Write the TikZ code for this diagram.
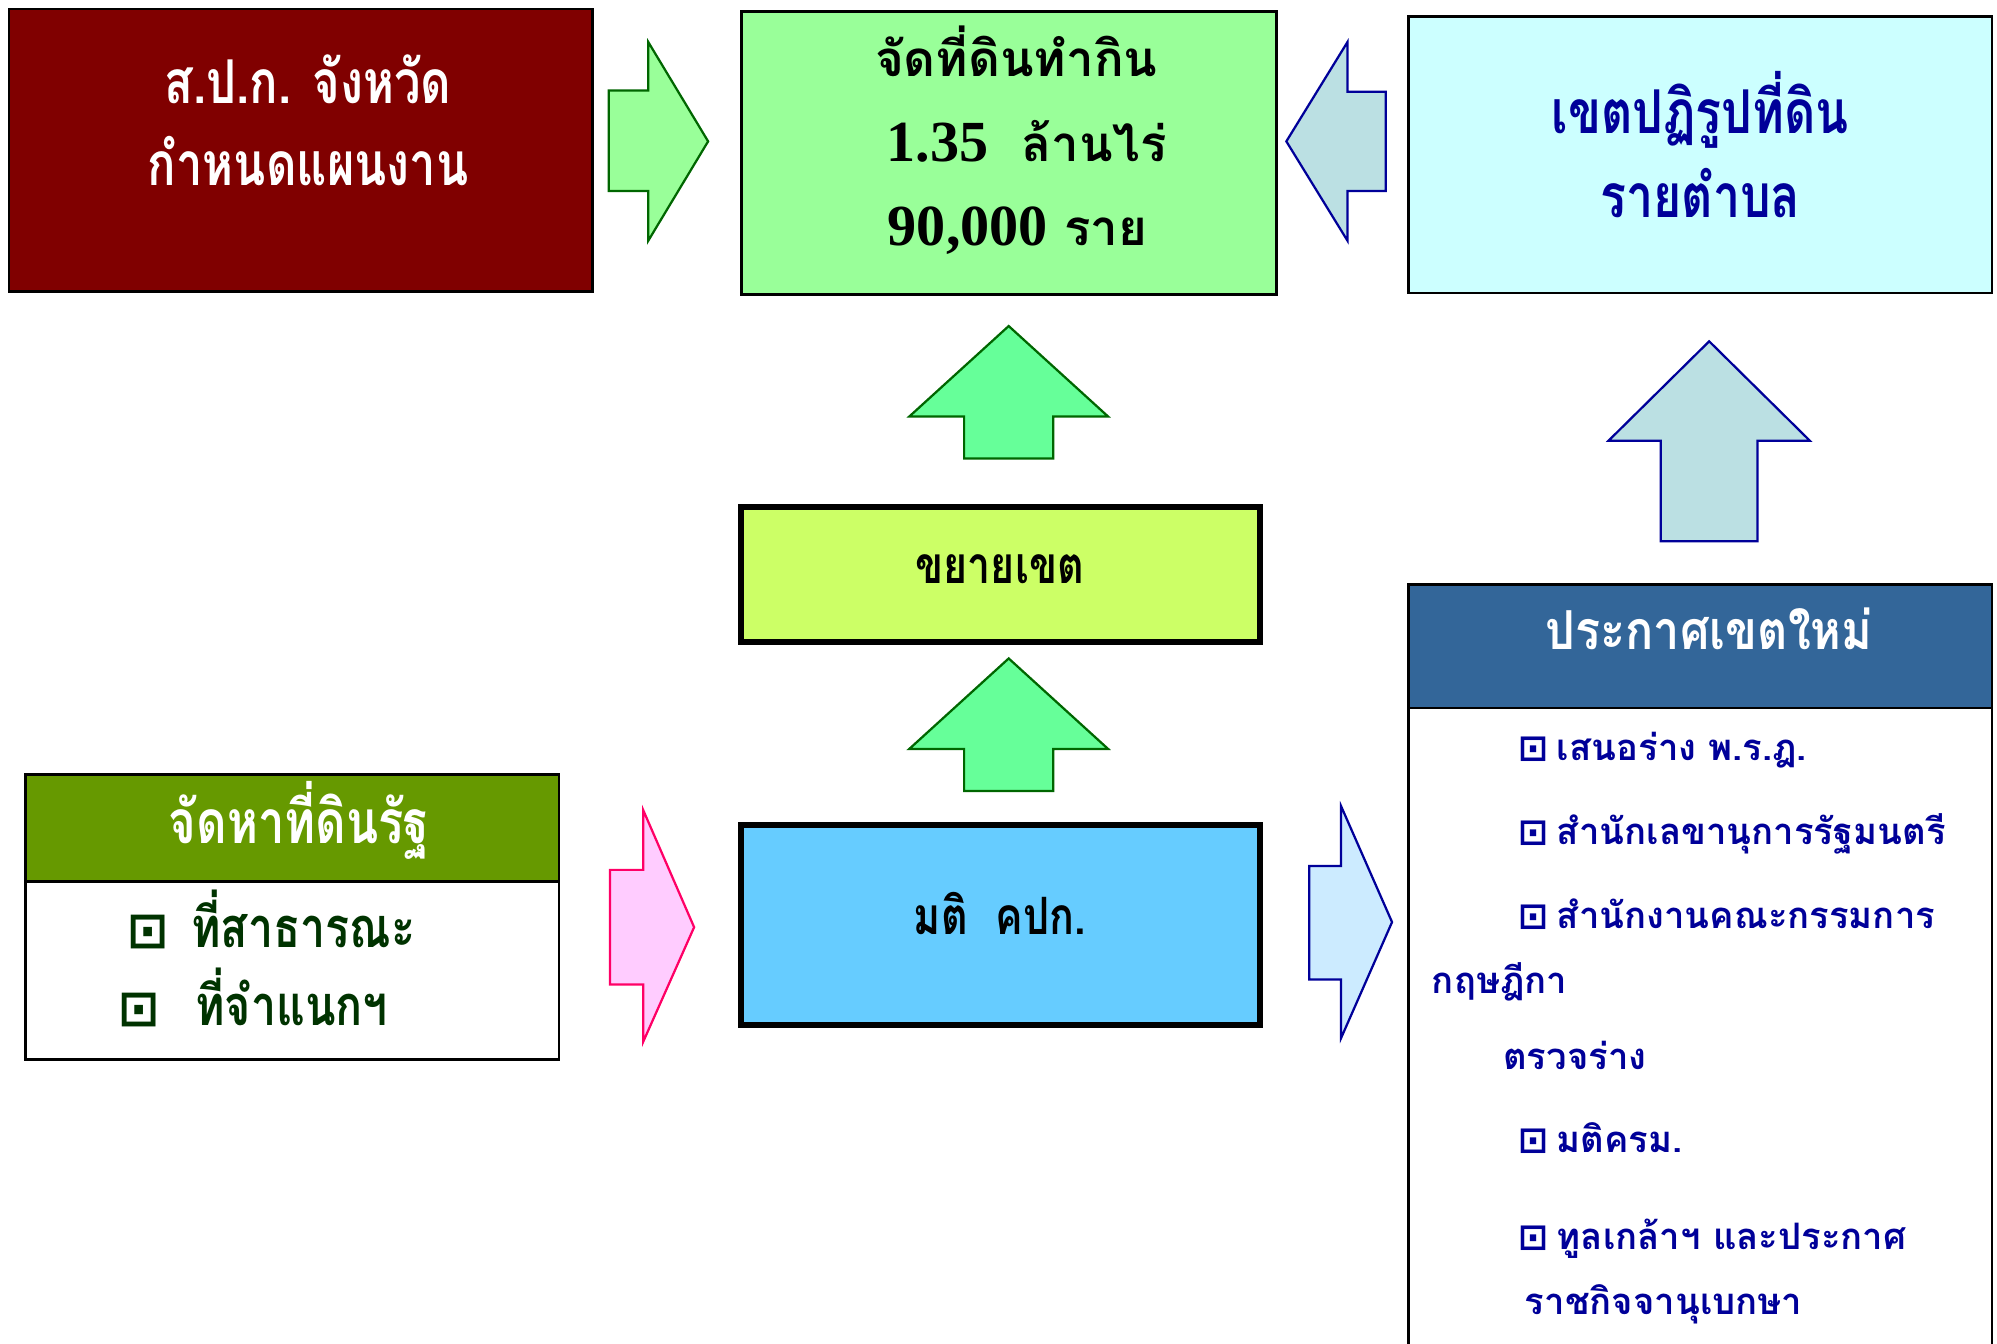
\documentclass[tikz,border=0pt]{standalone}
\usepackage{fontspec}
\usepackage{xcolor}
\newfontfamily\thaifont[Script=Thai]{Loma}
\newfontfamily\thaicond[Script=Thai,FakeStretch=0.8]{Loma}
\newfontfamily\thaitight[Script=Thai,FakeStretch=0.78]{Loma}
\newfontfamily\thaimid[Script=Thai,FakeStretch=0.87]{Loma}
\newfontfamily\symfont{DejaVu Sans}
\newfontfamily\numfont{Liberation Serif}

\definecolor{planred}{HTML}{800000}
\definecolor{allocgreen}{HTML}{99FF99}
\definecolor{zonecyan}{HTML}{CCFFFF}
\definecolor{extendlime}{HTML}{CCFF66}
\definecolor{resolveblue}{HTML}{66CCFF}
\definecolor{stateolive}{HTML}{669900}
\definecolor{announceblue}{HTML}{336699}
\definecolor{arrowgreen}{HTML}{66FF99}
\definecolor{arrowgray}{HTML}{BBE0E3}
\definecolor{arrowpink}{HTML}{FFCCFF}
\definecolor{arrowsky}{HTML}{CCEBFF}
\definecolor{darkline}{HTML}{006600}
\definecolor{navy}{HTML}{000099}
\definecolor{itemgreen}{HTML}{003300}
\definecolor{hotpink}{HTML}{FF0066}

\tikzset{
  thinbox/.style={draw=black, line width=1.2pt},
  thickbox/.style={draw=black, line width=2.6pt},
  greenarrow/.style={draw=darkline, line width=1pt},
  navyarrow/.style={draw=navy, line width=1pt},
  boxtext/.style={inner sep=0pt, anchor=base},
  itemtext/.style={inner sep=0pt, anchor=base west}
}

\begin{document}
\begin{tikzpicture}[x=0.2mm, y=-0.2mm]

  % page size
  \useasboundingbox (0,0) rectangle (1568,1055);
  \clip (0,0) rectangle (1568,1055);

  % top row boxes
  \filldraw[fill=planred, thinbox] (7,7) rectangle (465,229);
  \node[boxtext, text=white, font=\thaitight\bfseries\fontsize{27}{27}\selectfont] (plan) at (242,81) {ส.ป.ก. จังหวัด};
  \node[boxtext, text=white, font=\thaitight\bfseries\fontsize{27}{27}\selectfont] (plandetail) at (242,146) {กำหนดแผนงาน};

  \filldraw[fill=allocgreen, thinbox] (582,9) rectangle (1002,231);
  \node[boxtext, font=\thaifont\bfseries\fontsize{22}{22}\selectfont] (alloc) at (798,60) {จัดที่ดินทำกิน};
  \node[boxtext, font=\thaifont\bfseries\fontsize{22}{22}\selectfont] (area) at (806,127)
    {{\numfont\fontsize{26}{26}\selectfont 1.35}\ \ ล้านไร่};
  \node[boxtext, font=\thaifont\bfseries\fontsize{22}{22}\selectfont] (farmers) at (799,193)
    {{\numfont\fontsize{26}{26}\selectfont 90,000} ราย};

  \filldraw[fill=zonecyan, thinbox] (1106,13) rectangle (1564,230);
  \node[boxtext, text=navy, font=\thaicond\bfseries\fontsize{27}{27}\selectfont] (zone) at (1335,105) {เขตปฏิรูปที่ดิน};
  \node[boxtext, text=navy, font=\thaicond\bfseries\fontsize{27}{27}\selectfont] (zonedetail) at (1335,171) {รายตำบล};

  % middle column
  \filldraw[fill=extendlime, thickbox] (582,398) rectangle (989,504);
  \node[boxtext, font=\thaicond\bfseries\fontsize{23}{23}\selectfont] (extend) at (785,458) {ขยายเขต};

  \filldraw[fill=resolveblue, thickbox] (582,648) rectangle (989,805);
  \node[boxtext, font=\thaicond\bfseries\fontsize{23}{23}\selectfont] (resolve) at (785,734) {มติ\ \ คปก.};

  % state land box
  \filldraw[fill=stateolive, thinbox] (20,608) rectangle (439,692);
  \draw[thinbox, fill=white] (20,692) rectangle (439,832);
  \node[boxtext, text=white, font=\thaitight\bfseries\fontsize{27}{27}\selectfont] (state) at (235,662) {จัดหาที่ดินรัฐ};
  \node[itemtext, text=itemgreen, font=\symfont\bfseries\fontsize{22}{22}\selectfont] (publicbox) at (100,744) {⊡};
  \node[itemtext, text=itemgreen, font=\thaicond\bfseries\fontsize{25}{25}\selectfont] (public) at (150,744) {ที่สาธารณะ};
  \node[itemtext, text=itemgreen, font=\symfont\bfseries\fontsize{22}{22}\selectfont] (classedbox) at (93,805) {⊡};
  \node[itemtext, text=itemgreen, font=\thaicond\bfseries\fontsize{25}{25}\selectfont] (classed) at (153,805) {ที่จำแนกฯ};

  % announce box
  \filldraw[fill=announceblue, thinbox] (1106,459) rectangle (1564,556);
  \draw[thinbox, fill=white] (1106,556) rectangle (1564,1080);
  \node[boxtext, text=white, font=\thaimid\bfseries\fontsize{24}{24}\selectfont] (announce) at (1342,510) {ประกาศเขตใหม่};
  \foreach \y/\t [count=\i] in {597/{เสนอร่าง พ.ร.ฎ.}, 663/{สำนักเลขานุการรัฐมนตรี},
      729/{สำนักงานคณะกรรมการ}, 905/{มติครม.}, 981/{ทูลเกล้าฯ และประกาศ}} {
    \node[itemtext, text=navy, font=\symfont\bfseries\fontsize{16}{16}\selectfont] (stage\i box) at (1192,\y) {⊡};
    \node[itemtext, text=navy, font=\thaifont\bfseries\fontsize{16.3}{16.3}\selectfont] (stage\i) at (1222,\y) {\t};
  }
  \node[itemtext, text=navy, font=\thaifont\bfseries\fontsize{16.3}{16.3}\selectfont] (council) at (1124,780) {กฤษฎีกา};
  \node[itemtext, text=navy, font=\thaifont\bfseries\fontsize{16.3}{16.3}\selectfont] (review) at (1180,840) {ตรวจร่าง};
  \node[itemtext, text=navy, font=\thaifont\bfseries\fontsize{16.3}{16.3}\selectfont] (gazette) at (1197,1032) {ราชกิจจานุเบกษา};

  % block arrows, right and left
  \filldraw[fill=allocgreen, greenarrow]
    (478,71) -- (509,71) -- (509,33) -- (556,111) -- (509,189) -- (509,150) -- (478,150) -- cycle;
  \filldraw[fill=arrowgray, navyarrow]
    (1088,72) -- (1058,72) -- (1058,33) -- (1010,111) -- (1058,189) -- (1058,150) -- (1088,150) -- cycle;
  \filldraw[fill=arrowpink, draw=hotpink, line width=1pt]
    (479,683) -- (505,683) -- (505,636) -- (545,728) -- (505,818) -- (505,773) -- (479,773) -- cycle;
  \filldraw[fill=arrowsky, navyarrow]
    (1028,680) -- (1053,680) -- (1053,633) -- (1093,724) -- (1053,815) -- (1053,769) -- (1028,769) -- cycle;

  % block arrows, up
  \foreach \y in {256,517} {
    \begin{scope}[shift={(792,\y)}]
      \filldraw[fill=arrowgreen, greenarrow]
        (0,0) -- (78,71) -- (35,71) -- (35,104) -- (-35,104) -- (-35,71) -- (-78,71) -- cycle;
    \end{scope}
  }
  \filldraw[fill=arrowgray, navyarrow]
    (1342,268) -- (1421,346) -- (1380,346) -- (1380,425) -- (1304,425) -- (1304,346) -- (1263,346) -- cycle;

\end{tikzpicture}
\end{document}
